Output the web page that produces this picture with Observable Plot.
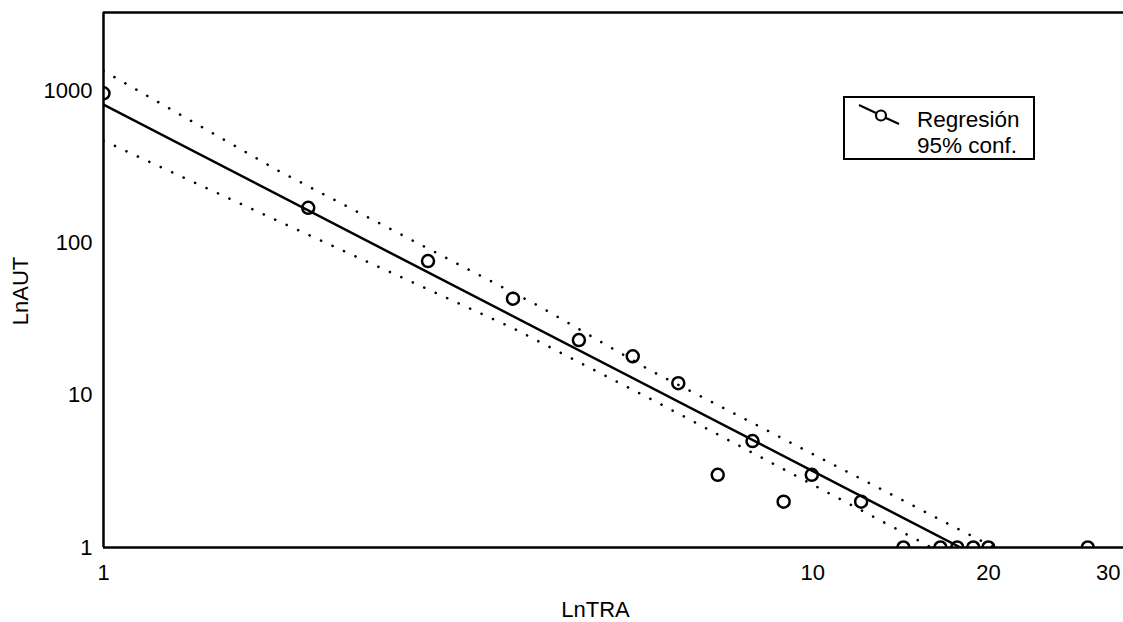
<!DOCTYPE html>
<html><head><meta charset="utf-8">
<script src="https://cdn.jsdelivr.net/npm/d3@7"></script>
<script src="https://cdn.jsdelivr.net/npm/@observablehq/plot@0.6"></script>
<style>
body{margin:0;background:#fff;}
#wrap{position:relative;width:1123px;height:622px;font-family:"Liberation Sans",Arial,sans-serif;}
#legend{position:absolute;left:0;top:0;pointer-events:none;}
</style></head><body><div id="wrap"></div>
<script>
// Observed data (number of works vs number of authors)
const trabajos = [1,2,3,4,5,6,7,8,9,10,11,13,15,17,18,19,20,28];
const autores  = [960,170,76,43,23,18,12,3,5,2,3,2,1,1,1,1,1,1];
// Regression line
const regX = [1, 18.2];
const regY = [809, 1];
// 95% confidence bands
const supX = [1, 1.82, 4.39, 6.36, 20.4];
const supY = [1350, 293, 38, 14.6, 1];
const infX = [1, 1.82, 3.97, 6.36, 16.5];
const infY = [469, 137, 28, 9.5, 1];
// ticks
const xTicks = [1, 20, 30];
const xTicksShifted = [10];
const yTicks = [1, 10, 100, 1000];
const xMax = 31.6, yMax = 3258;
const legendLabels = ["Regresión", "95% conf."];

const pts = trabajos.map((x, i) => ({x, y: autores[i]}));
const reg = regX.map((x, i) => ({x, y: regY[i]}));
const sup = supX.map((x, i) => ({x, y: supY[i]}));
const inf = infX.map((x, i) => ({x, y: infY[i]}));

const font = "Liberation Sans, Arial, sans-serif";
const fs = 22;
const dotted = {stroke: "#000", strokeWidth: 2.6, strokeDasharray: "0.1 12.5", strokeLinecap: "round", clip: true};

const plot = Plot.plot({
  width: 1123, height: 622,
  marginLeft: 103, marginRight: 0, marginTop: 12, marginBottom: 75,
  style: {fontFamily: font, fontSize: fs + "px", color: "#000", background: "#fff"},
  x: {type: "log", domain: [1, xMax]},
  y: {type: "log", domain: [1, yMax]},
  marks: [
    Plot.line(sup, {x: "x", y: "y", ...dotted}),
    Plot.line(inf, {x: "x", y: "y", ...dotted}),
    Plot.line(reg, {x: "x", y: "y", stroke: "#000", strokeWidth: 2.5, clip: true}),
    Plot.dot(pts, {x: "x", y: "y", r: 6, stroke: "#000", strokeWidth: 2.5, fill: "none", clip: true}),
    Plot.ruleX([1], {stroke: "#000", strokeWidth: 2.5}),
    Plot.ruleY([1, yMax], {stroke: "#000", strokeWidth: 2.5}),
    Plot.axisY(yTicks, {tickSize: 0, tickPadding: 11, tickFormat: d => String(d), label: null, fontSize: fs}),
    Plot.axisX(xTicks, {tickSize: 0, tickPadding: 17, tickFormat: d => String(d), label: null, fontSize: fs}),
    Plot.axisX(xTicksShifted, {tickSize: 0, tickPadding: 17, tickFormat: d => String(d), label: null, fontSize: fs, dx: 29}),
    Plot.text(["LnTRA"], {frameAnchor: "bottom", dx: -18, dy: 69, lineAnchor: "bottom", textAnchor: "middle", fontSize: fs, fill: "#000"}),
    Plot.text(["LnAUT"], {frameAnchor: "left", dx: -76, dy: 11, rotate: -90, lineAnchor: "bottom", textAnchor: "middle", fontSize: fs, fill: "#000"})
  ]
});
document.getElementById("wrap").appendChild(plot);

// Legend overlay
const svg = d3.select("#wrap").append("svg").attr("id", "legend")
  .attr("width", 1123).attr("height", 622);
svg.append("rect").attr("x", 844).attr("y", 97).attr("width", 190).attr("height", 62)
  .attr("fill", "#fff").attr("stroke", "#000").attr("stroke-width", 2);
svg.append("line").attr("x1", 859).attr("y1", 105).attr("x2", 876).attr("y2", 113)
  .attr("stroke", "#000").attr("stroke-width", 2.2);
svg.append("circle").attr("cx", 881).attr("cy", 115.5).attr("r", 5)
  .attr("fill", "none").attr("stroke", "#000").attr("stroke-width", 2.2);
svg.append("line").attr("x1", 886).attr("y1", 118).attr("x2", 899).attr("y2", 124)
  .attr("stroke", "#000").attr("stroke-width", 2.2);
legendLabels.forEach((t, i) => {
  svg.append("text").attr("x", 917).attr("y", 127 + i * 25.5)
    .attr("font-family", font).attr("font-size", 22.5).attr("fill", "#000").text(t);
});
</script></body></html>
